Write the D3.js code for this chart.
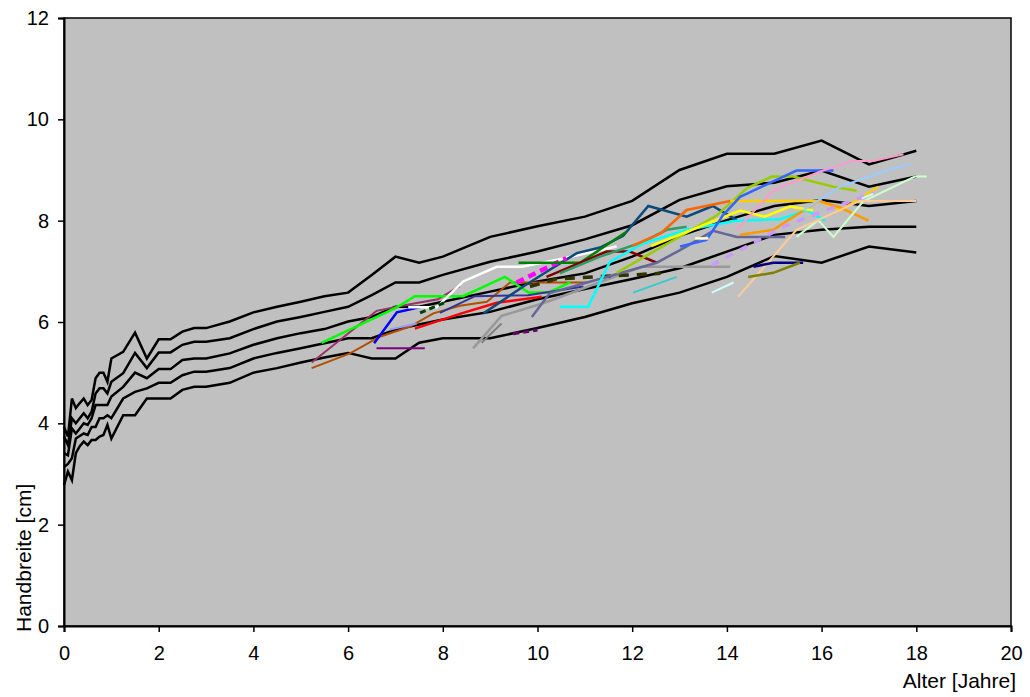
<!DOCTYPE html>
<html><head><meta charset="utf-8">
<script src="https://cdn.jsdelivr.net/npm/d3@7"></script>
<style>body{margin:0;background:#fff;} text{font-family:Arial,"Liberation Sans",sans-serif;}</style>
</head><body>
<svg id="c" width="1030" height="697"></svg>
<script>
const xTicks = [0,2,4,6,8,10,12,14,16,18,20];
const yTicks = [0,2,4,6,8,10,12];
const xTitle = "Alter [Jahre]";
const yTitle = "Handbreite [cm]";

const ages = [0,0.083,0.167,0.25,0.333,0.417,0.5,0.583,0.667,0.75,0.833,0.917,1,1.25,1.5,1.75,2,2.25,2.5,2.75,3,3.5,4,4.5,5,5.5,6,6.5,7,7.5,8,9,10,11,12,13,14,15,16,17,18];
const p97 = [3.93,3.74,4.49,4.30,4.40,4.49,4.36,4.46,4.89,5.0,5.0,4.82,5.28,5.41,5.79,5.28,5.66,5.66,5.81,5.88,5.88,6.01,6.19,6.30,6.40,6.51,6.58,6.93,7.29,7.17,7.29,7.68,7.89,8.08,8.39,9.0,9.32,9.32,9.58,9.11,9.38];
const p75 = [3.74,3.57,4.10,4.00,4.10,4.20,4.10,4.23,4.59,4.69,4.69,4.59,4.82,4.99,5.39,5.09,5.40,5.40,5.55,5.61,5.61,5.68,5.86,6.01,6.10,6.20,6.30,6.53,6.78,6.78,6.93,7.19,7.39,7.63,7.91,8.41,8.68,8.75,8.99,8.67,8.87];
const p50 = [3.41,3.37,3.90,3.80,3.90,4.0,3.97,4.10,4.36,4.36,4.36,4.36,4.53,4.72,5.0,4.89,5.07,5.07,5.25,5.28,5.28,5.38,5.55,5.68,5.78,5.86,6.01,6.10,6.30,6.30,6.40,6.60,6.80,6.96,7.29,7.70,8.01,8.29,8.41,8.29,8.39];
const p25 = [3.14,3.20,3.31,3.70,3.75,3.80,3.77,3.93,3.93,4.10,4.10,4.16,4.10,4.49,4.62,4.69,4.80,4.80,4.95,5.02,5.02,5.09,5.28,5.39,5.48,5.58,5.68,5.68,5.85,5.95,6.05,6.20,6.45,6.65,6.85,7.06,7.39,7.72,7.82,7.88,7.88];
const p3  = [2.78,3.05,2.88,3.41,3.55,3.64,3.57,3.67,3.67,3.74,3.77,3.97,3.70,4.16,4.16,4.49,4.49,4.49,4.66,4.72,4.72,4.80,5.0,5.09,5.20,5.30,5.39,5.28,5.28,5.59,5.68,5.68,5.88,6.10,6.37,6.58,6.89,7.30,7.17,7.49,7.37];
const percentiles = [p97,p75,p50,p25,p3];

// individual children: colour, dash, points [age, cm]
const indivColors = ["#993366","#B04F00","#00FF00","#0000FF","#FFFFFF","#9999FF","#800080","#004000","#FF0000","#333399",
  "#0B4A7A","#999999","#808080","#FF00FF","#008000","#333300","#800000","#339966","#666699","#00FFFF",
  "#33CCCC","#99CC00","#FF6600","#FFCC00","#FF9900","#FFFF00","#3366FF","#FF99CC","#99CCFF","#CCFFCC",
  "#FFCC99","#CC99FF","#CCFFFF","#000080","#808000","#FFFFCC","#CCFFFF","#660066"];
const indivDash = ["","","","","","","","6,4","","","","","","8,5","","10,8","","","","","","","","","","","","","","","","8,8","","","","","","6,4"];
const indivWidth = [2,2,2.5,2.5,2.5,2,2,3,2.5,2,2.5,2.5,2,4.5,2.5,3.5,2.5,2.5,2.5,2.5,2,2.5,2.5,2.5,2.5,2.5,2.5,2,2,2,2,3.5,2,2.5,2.5,2.5,2,3];
const indivPoints = [
 [[5.23,5.20],[6.6,6.22],[7.3,6.35],[7.9,6.45],[8.36,6.71]],
 [[5.23,5.09],[6.04,5.38],[6.67,5.71],[7.31,5.91],[7.8,6.17],[8.36,6.32],[8.93,6.40],[9.42,6.78],[11.04,6.78]],
 [[5.44,5.59],[7.03,6.29],[7.41,6.51],[8.43,6.51],[9.31,6.89],[9.81,6.58],[10.23,6.58],[10.69,6.78]],
 [[6.55,5.58],[7.03,6.19],[7.55,6.30]],
 [[7.27,6.29],[7.87,6.29],[8.43,6.8],[9.14,7.09],[9.67,7.09],[10.47,7.24],[11.67,7.49]],
 [[6.88,5.85],[7.45,5.97]],
 [[6.6,5.48],[7.62,5.48]],
 [[7.52,6.18],[8.08,6.40]],
 [[7.41,5.87],[8.36,6.16],[9.14,6.38],[10.09,6.50]],
 [[7.94,6.18],[8.68,6.51],[9.8,6.53],[10.97,6.70]],
 [[8.86,6.17],[9.7,6.70],[10.26,7.03],[10.83,7.36],[11.32,7.47],[11.81,7.70],[12.34,8.29],[13.15,8.08],[13.7,8.29],[14.21,8.01]],
 [[8.64,5.48],[9.24,6.12],[10.12,6.37],[12.2,7.09],[14.07,7.09]],
 [[8.82,5.59],[9.24,5.97]],
 [[9.56,6.78],[10.61,7.26]],
 [[9.6,7.17],[10.9,7.17],[11.88,7.78]],
 [[9.84,6.7],[10.4,6.85],[12.6,6.96]],
 [[10.19,6.89],[11.46,7.39],[11.95,7.39],[12.52,7.17]],
 [[10.47,6.96],[11.32,7.29],[12.23,7.58],[12.73,7.82],[13.15,7.88]],
 [[9.88,6.1],[10.26,6.57],[12.52,7.17],[13.01,7.42],[13.71,7.8],[14.21,7.68],[15.23,7.68]],
 [[10.47,6.3],[11.07,6.3],[11.53,7.19],[12.23,7.55],[13.15,7.82],[14.2,8.0],[15.12,8.03],[15.69,8.21],[16.07,8.0]],
 [[12.02,6.58],[12.94,6.89]],
 [[11.67,6.97],[13.78,8.1],[14.42,8.64],[14.95,8.87],[15.4,8.87],[16.25,8.67],[16.74,8.59]],
 [[12.0,7.5],[12.6,7.75],[13.15,8.21],[14.07,8.39]],
 [[14.07,8.39],[15.97,8.39],[16.4,8.2],[17.2,8.67]],
 [[14.28,7.72],[14.98,7.82],[15.93,8.39],[16.39,8.26],[16.99,8.0]],
 [[12.4,7.5],[14.28,8.2],[14.8,8.08],[15.33,8.28],[15.82,8.2]],
 [[13.01,7.49],[13.57,7.62],[13.92,8.11],[14.28,8.47],[15.47,8.99],[16.25,8.99]],
 [[14.21,7.82],[14.98,8.6],[15.97,8.97],[16.67,9.18],[17.09,9.18],[17.73,9.31]],
 [[15.6,8.2],[16.39,8.67],[17.37,8.99],[17.87,9.12]],
 [[15.47,7.68],[15.93,8.01],[16.25,7.68],[16.88,8.38],[17.97,8.87],[18.22,8.87]],
 [[14.24,6.5],[15.47,7.82],[16.81,8.39],[18.0,8.39]],
 [[13.68,7.12],[15.19,7.88],[16.11,8.21],[17.09,8.55]],
 [[13.68,6.58],[14.14,6.78]],
 [[14.56,7.09],[14.98,7.17],[15.61,7.17]],
 [[14.45,6.89],[14.98,6.97],[15.54,7.17]],
 [[13.33,7.65],[13.61,7.65]],
 [[16.85,8.44],[17.09,8.53]],
 [[9.49,5.77],[10.0,5.84]]
];

const svg = d3.select("#c");
const L = 64, R = 1011, T = 18, B = 626;
const x = d3.scaleLinear().domain([0,20]).range([L,R]);
const y = d3.scaleLinear().domain([0,12]).range([B,T]);

svg.append("rect").attr("x",L).attr("y",T).attr("width",R-L).attr("height",B-T)
  .attr("fill","#C0C0C0").attr("stroke","none");

const line = d3.line().x(d=>x(d[0])).y(d=>y(d[1]));
const g = svg.append("g");

percentiles.forEach(arr=>{
  g.append("path").datum(ages.map((a,i)=>[a,arr[i]]))
   .attr("d",line).attr("fill","none").attr("stroke","#000").attr("stroke-width",2.5)
   .attr("stroke-linejoin","miter");
});

indivPoints.forEach((pts,i)=>{
  g.append("path").datum(pts).attr("d",line).attr("fill","none")
   .attr("stroke",indivColors[i]).attr("stroke-width",indivWidth[i])
   .attr("stroke-dasharray",indivDash[i]||null);
});

// frame
svg.append("rect").attr("x",L).attr("y",T).attr("width",R-L).attr("height",B-T)
  .attr("fill","none").attr("stroke","#000").attr("stroke-width",1.5);

const xAxis = svg.append("g").attr("transform",`translate(0,${B})`)
  .call(d3.axisBottom(x).tickValues(xTicks).tickSize(6).tickPadding(14).tickFormat(d3.format("d")));
const yAxis = svg.append("g").attr("transform",`translate(${L},0)`)
  .call(d3.axisLeft(y).tickValues(yTicks).tickSize(6).tickPadding(9).tickFormat(d3.format("d")));
[xAxis,yAxis].forEach(a=>{
  a.select(".domain").attr("stroke","#000").attr("stroke-width",2);
  a.selectAll(".tick line").attr("stroke","#000").attr("stroke-width",1.5);
  a.selectAll(".tick text").attr("font-size",20).attr("fill","#000")
   .attr("font-family","Arial, 'Liberation Sans', sans-serif");
});

svg.append("text").attr("x",1016).attr("y",688).attr("text-anchor","end")
  .attr("font-size",21).text(xTitle);
svg.append("text").attr("transform","translate(31,632) rotate(-90)").attr("text-anchor","start")
  .attr("font-size",21).text(yTitle);
</script>
</body></html>
